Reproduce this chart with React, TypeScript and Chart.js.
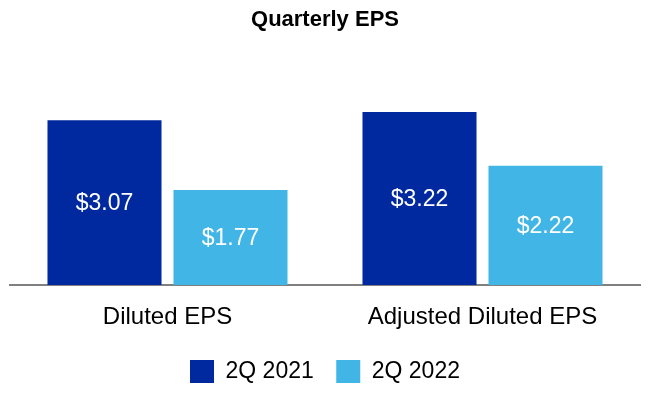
import React, { useEffect, useRef } from "react";
import { Chart, registerables } from "chart.js";

Chart.register(...registerables);

const categories = ["Diluted EPS", "Adjusted Diluted EPS"];
const series2021 = [3.07, 3.22];
const series2022 = [1.77, 2.22];
const seriesLabels = ["2Q 2021", "2Q 2022"];
const chartTitle = "Quarterly EPS";

const FONT = "'Liberation Sans', Arial, Helvetica, sans-serif";
const DARK = "#0029A0";
const LIGHT = "#41B6E6";

const barLabelPlugin = {
  id: "barLabels",
  afterDatasetsDraw(chart: any) {
    const { ctx } = chart;
    ctx.save();
    ctx.fillStyle = "#ffffff";
    ctx.font = `23px ${FONT}`;
    ctx.textAlign = "center";
    ctx.textBaseline = "middle";
    chart.data.datasets.forEach((ds: any, di: number) => {
      const meta = chart.getDatasetMeta(di);
      meta.data.forEach((el: any, i: number) => {
        const { x, y, base } = el.getProps(["x", "y", "base"], true);
        const v = ds.data[i] as number;
        ctx.fillText("$" + v.toFixed(2), x, (y + base) / 2 + 1.5);
      });
    });
    ctx.restore();
  },
};

export default function App() {
  const ref = useRef<HTMLCanvasElement | null>(null);

  useEffect(() => {
    if (!ref.current) return;
    const chart = new Chart(ref.current, {
      type: "bar",
      data: {
        labels: categories,
        datasets: [
          {
            label: seriesLabels[0],
            data: series2021,
            backgroundColor: DARK,
            categoryPercentage: 0.8,
            barPercentage: 0.905,
          },
          {
            label: seriesLabels[1],
            data: series2022,
            backgroundColor: LIGHT,
            categoryPercentage: 0.8,
            barPercentage: 0.905,
          },
        ],
      },
      options: {
        animation: false,
        responsive: false,
        maintainAspectRatio: false,
        layout: { padding: { left: 10, right: 10, top: 0, bottom: 7 } },
        plugins: {
          title: {
            display: true,
            text: chartTitle,
            color: "#000000",
            font: { family: FONT, size: 22, weight: "bold", lineHeight: 1.2 },
            padding: { top: 6.3, bottom: 37.5 },
          },
          legend: {
            position: "bottom",
            labels: {
              color: "#000000",
              font: { family: FONT, size: 23 },
              boxWidth: 24,
              boxHeight: 23,
              padding: 22.5,
            },
          },
          tooltip: { enabled: false },
        },
        scales: {
          x: {
            grid: { display: false, drawTicks: false, tickLength: 0 },
            border: { display: true, color: "#808080", width: 2 },
            ticks: {
              color: "#000000",
              font: { family: FONT, size: 24, lineHeight: 42 / 24 },
              padding: 11,
            },
            afterFit: (scale: any) => {
              scale.height = 52.5;
            },
          },
          y: {
            display: false,
            min: 0,
            max: 4,
          },
        },
      },
      plugins: [barLabelPlugin],
    });
    return () => chart.destroy();
  }, []);

  return (
    <div style={{ position: "fixed", left: 0, top: 0, width: 650, height: 400, background: "#ffffff" }}>
      <canvas ref={ref} width={650} height={400} style={{ width: 650, height: 400, display: "block" }} />
    </div>
  );
}
